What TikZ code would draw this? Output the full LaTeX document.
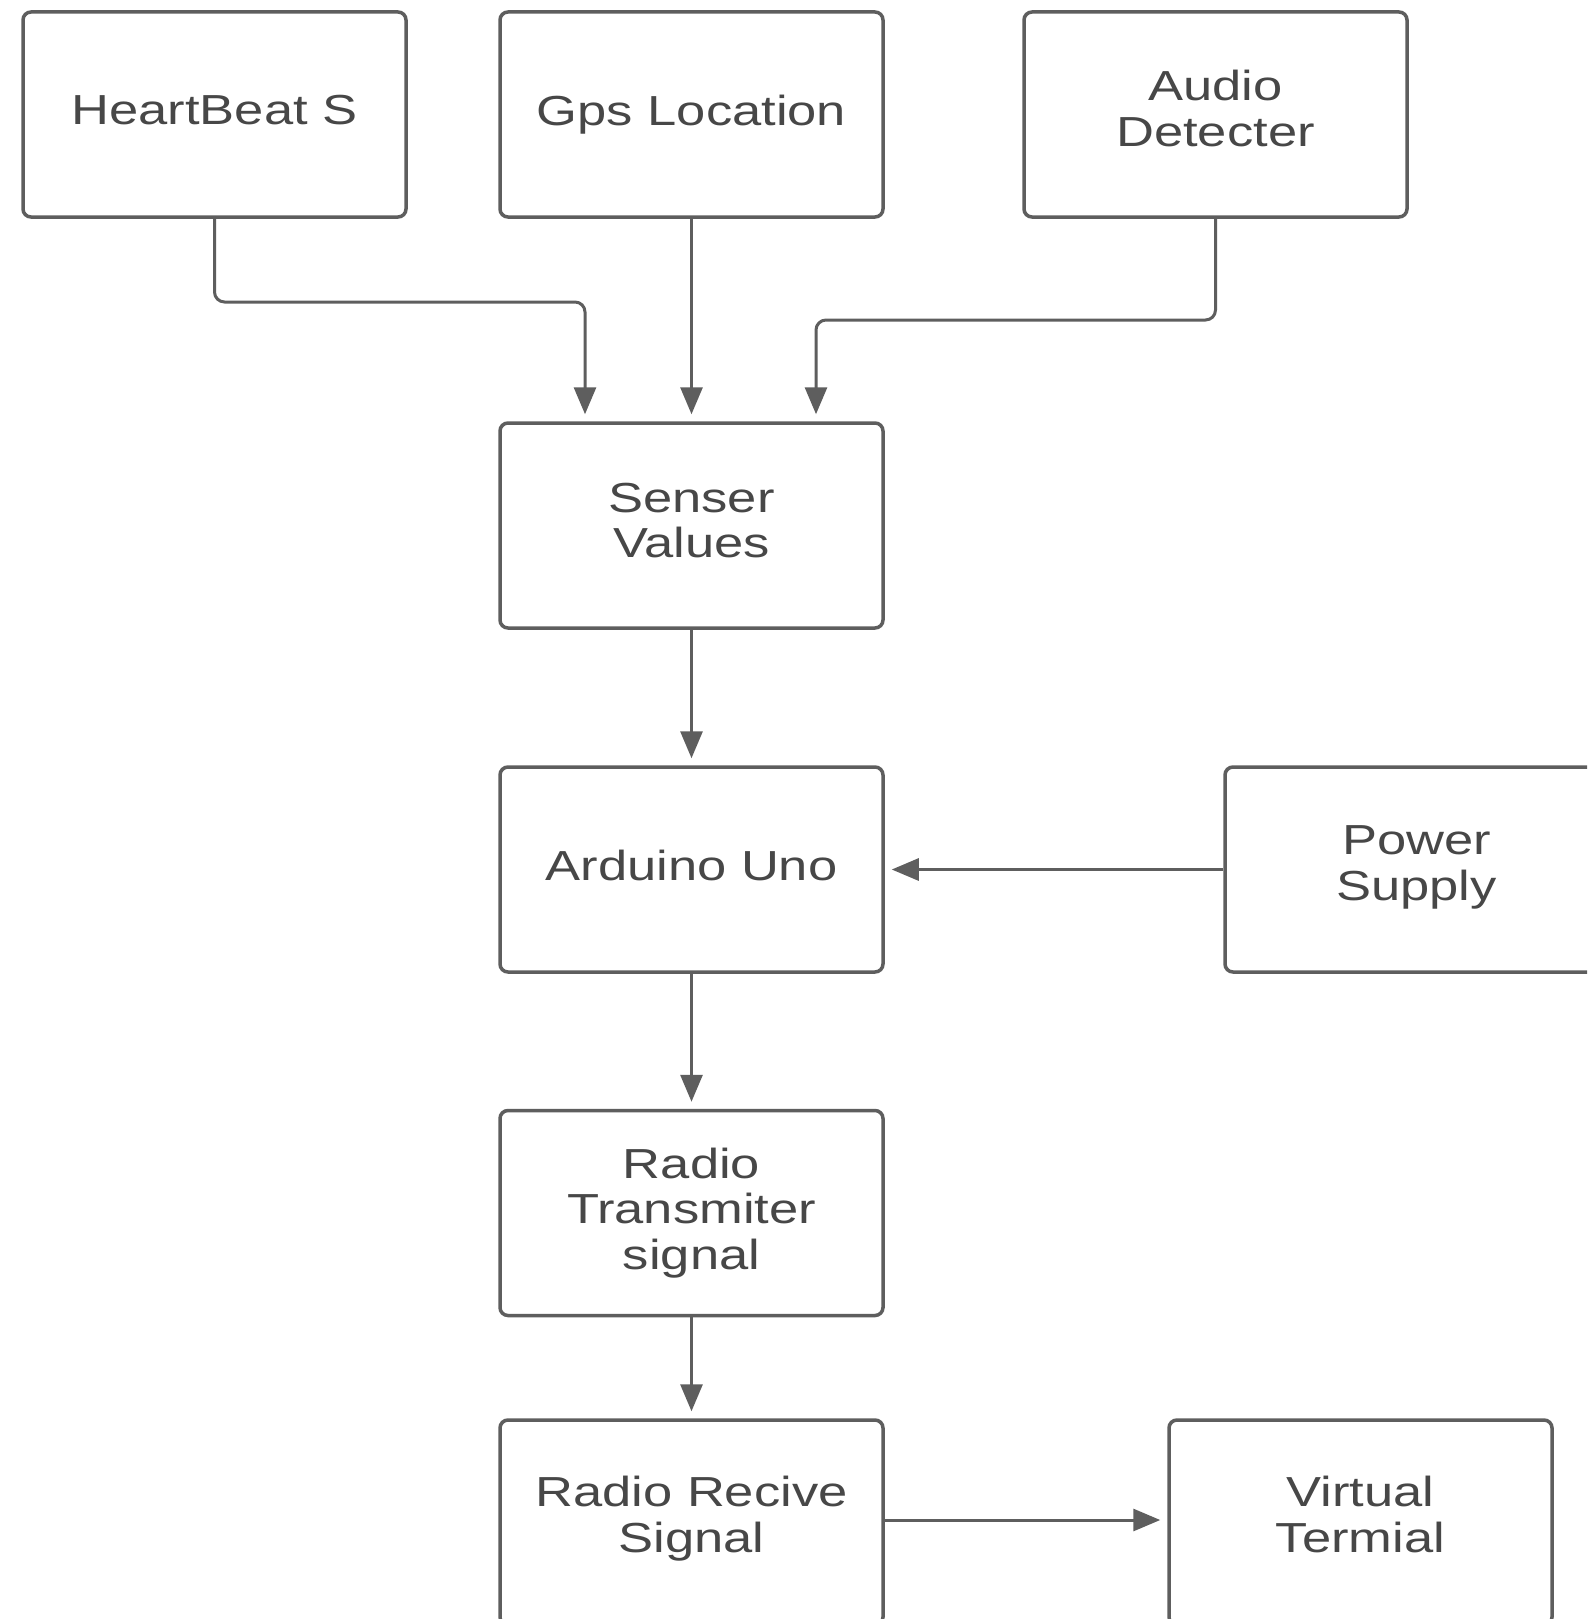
\documentclass[tikz,border=0pt]{standalone}
\usepackage{fontspec}
\setmainfont{Liberation Sans}[FakeStretch=1.25]
\usetikzlibrary{arrows.meta}
\definecolor{linegray}{HTML}{5E5E5E}
\definecolor{textgray}{HTML}{474747}
\begin{document}
\begin{tikzpicture}[x=1pt,y=-1pt,
  blk/.style={draw=linegray, line width=3.5pt, rounded corners=8pt,
    minimum width=383pt, minimum height=205pt, inner sep=0pt, fill=white},
  lbl/.style={align=center, text=textgray, inner sep=0pt,
    font=\fontsize{42}{45.5}\selectfont},
  conn/.style={draw=linegray, line width=3pt, rounded corners=10pt,
    -{Triangle[length=27pt,width=22pt]}, shorten >=7pt}]
\useasboundingbox (0,0) rectangle (1587,1619);
\clip (0,0) rectangle (1587,1619);
\fill[white] (0,0) rectangle (1587,1619);

\node[blk] (hb)  at (214.5,114.5) {};
\node[blk] (gps) at (691.5,114.5) {};
\node[blk] (aud) at (1215.5,114.5) {};
\node[blk] (sv)  at (691.5,525.5) {};
\node[blk] (ard) at (691.5,869.5) {};
\node[blk] (pow) at (1416.5,869.5) {};
\node[blk] (rt)  at (691.5,1213) {};
\node[blk] (rr)  at (691.5,1522.5) {};
\node[blk] (vt)  at (1360.5,1522.5) {};

\node[lbl] (hbT)  at ([yshift=4pt]hb.center)  {HeartBeat S};
\node[lbl] (gpsT) at ([yshift=0pt]gps.center) {Gps Location};
\node[lbl] (audT) at ([yshift=6pt]aud.center) {Audio\\Detecter};
\node[lbl] (svT)  at ([yshift=5pt]sv.center)  {Senser\\Values};
\node[lbl] (ardT) at ([yshift=4pt]ard.center) {Arduino Uno};
\node[lbl] (powT) at ([yshift=2pt]pow.center) {Power\\Supply};
\node[lbl] (rtT)  at ([yshift=0pt]rt.center)  {Radio\\Transmiter\\signal};
\node[lbl] (rrT)  at ([yshift=4pt]rr.center)  {Radio Recive\\Signal};
\node[lbl] (vtT)  at ([yshift=8pt]vt.center)  {Virtual\\Termial};

\coordinate (hbA) at (214.5,302);
\coordinate (hbB) at (585,302);
\coordinate (auA) at (1215.5,320);
\coordinate (auB) at (816,320);

\draw[conn] (hb.south) -- (hbA) -- (hbB) -- (hbB |- sv.north);
\draw[conn] (gps.south) -- (sv.north);
\draw[conn] (aud.south) -- (auA) -- (auB) -- (auB |- sv.north);
\draw[conn] (sv.south) -- (ard.north);
\draw[conn] (pow.west) -- (ard.east);
\draw[conn] (ard.south) -- (rt.north);
\draw[conn] (rt.south) -- (rr.north);
\draw[conn] (rr.east |- 0,1520) -- (vt.west |- 0,1520);
\end{tikzpicture}
\end{document}
